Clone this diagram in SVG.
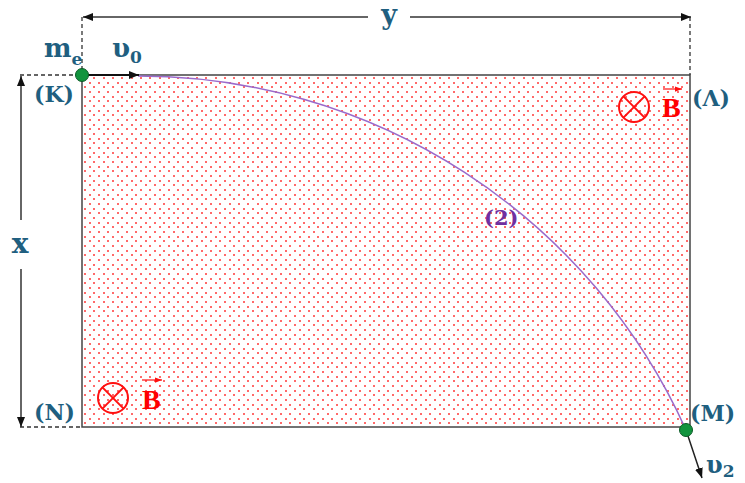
<svg xmlns="http://www.w3.org/2000/svg" width="745" height="483" viewBox="0 0 745 483">
<style>
.lbl{font-family:"DejaVu Serif","Liberation Serif",serif;font-weight:bold;fill:#1f5f80}
.big{font-size:26px}
.pt{font-size:22px}
.sub{font-size:17px}
.dim{stroke:#333;stroke-width:1.5;fill:none}
.dash{stroke:#333;stroke-width:1.3;stroke-dasharray:4 3;fill:none}
.red{stroke:#ff1010;stroke-width:2;fill:none}
.bt{font-family:"Liberation Serif","DejaVu Serif",serif;font-weight:bold;font-size:28px;fill:#ff0000}
.dot{fill:#12943e;stroke:#0b5a27;stroke-width:1}
.pd{fill:#ff6a6a}
</style>
<defs>
<pattern id="dots" patternUnits="userSpaceOnUse" x="82" y="75" width="28" height="28">
<rect class="pd" x="2" y="2" width="2" height="2"/>
<rect class="pd" x="11" y="2" width="2" height="2"/>
<rect class="pd" x="21" y="2" width="2" height="2"/>
<rect class="pd" x="7" y="7" width="2" height="2"/>
<rect class="pd" x="16" y="7" width="2" height="2"/>
<rect class="pd" x="25" y="7" width="2" height="2"/>
<rect class="pd" x="2" y="11" width="2" height="2"/>
<rect class="pd" x="11" y="11" width="2" height="2"/>
<rect class="pd" x="21" y="11" width="2" height="2"/>
<rect class="pd" x="7" y="16" width="2" height="2"/>
<rect class="pd" x="16" y="16" width="2" height="2"/>
<rect class="pd" x="25" y="16" width="2" height="2"/>
<rect class="pd" x="2" y="21" width="2" height="2"/>
<rect class="pd" x="11" y="21" width="2" height="2"/>
<rect class="pd" x="21" y="21" width="2" height="2"/>
<rect class="pd" x="7" y="25" width="2" height="2"/>
<rect class="pd" x="16" y="25" width="2" height="2"/>
<rect class="pd" x="25" y="25" width="2" height="2"/>
</pattern>
<marker id="ah" viewBox="0 0 10 8" refX="10" refY="4" markerWidth="10" markerHeight="8" markerUnits="userSpaceOnUse" orient="auto-start-reverse">
<path d="M0,0 L10,4 L0,8 Z" fill="#111"/>
</marker>
<marker id="ahr" viewBox="0 0 8 6" refX="8" refY="3" markerWidth="7" markerHeight="6" markerUnits="userSpaceOnUse" orient="auto">
<path d="M0,0 L8,3 L0,6 Z" fill="#ff1010"/>
</marker>
</defs>

<g id="field">
<rect x="82" y="75" width="608" height="352" fill="url(#dots)" stroke="#444" stroke-width="1.5"/>
</g>

<g id="connectors">
<line class="dash" x1="82" y1="17" x2="82" y2="75"/>
<line class="dash" x1="690" y1="17" x2="690" y2="75"/>
<line class="dim" x1="368" y1="17" x2="83" y2="17" marker-end="url(#ah)"/>
<line class="dim" x1="410" y1="17" x2="691" y2="17" marker-end="url(#ah)"/>
<line class="dash" x1="20" y1="75" x2="82" y2="75"/>
<line class="dash" x1="20" y1="427" x2="82" y2="427"/>
<line class="dim" x1="21" y1="220" x2="21" y2="76" marker-end="url(#ah)"/>
<line class="dim" x1="21" y1="269" x2="21" y2="427" marker-end="url(#ah)"/>
<path d="M138,76 A601,601 0 0 1 686,430" fill="none" stroke="#9a6acb" stroke-width="1.5"/>
<line x1="82" y1="75" x2="139" y2="75" stroke="#111" stroke-width="2" marker-end="url(#ah)"/>
<line x1="686" y1="430" x2="702" y2="478" stroke="#222" stroke-width="1.5" marker-end="url(#ah)"/>
</g>

<g id="B-top">
<circle class="red" cx="634" cy="107" r="15"/>
<line class="red" x1="623.4" y1="96.4" x2="644.6" y2="117.6"/>
<line class="red" x1="644.6" y1="96.4" x2="623.4" y2="117.6"/>
<text class="bt" x="662" y="117">B</text>
<line x1="663" y1="89" x2="682" y2="89" stroke="#ff1010" stroke-width="1.2" marker-end="url(#ahr)"/>
</g>

<g id="B-bottom">
<circle class="red" cx="113" cy="398" r="15"/>
<line class="red" x1="102.4" y1="387.4" x2="123.6" y2="408.6"/>
<line class="red" x1="123.6" y1="387.4" x2="102.4" y2="408.6"/>
<text class="bt" x="142" y="409">B</text>
<line x1="142" y1="380" x2="162" y2="380" stroke="#ff1010" stroke-width="1.2" marker-end="url(#ahr)"/>
</g>

<g id="electron">
<circle class="dot" cx="82" cy="75" r="6.5"/>
<text class="lbl big" x="44" y="57">m<tspan class="sub" dy="8">e</tspan></text>
<text class="lbl big" x="112" y="57">υ<tspan class="sub" dy="6">0</tspan></text>
</g>

<g id="exit">
<circle class="dot" cx="686" cy="430" r="6.5"/>
<text class="lbl" font-size="24" x="706" y="473">υ<tspan class="sub" font-size="16" dy="4">2</tspan></text>
</g>

<g id="K"><text class="lbl pt" x="34" y="102">(K)</text></g>
<g id="L"><text class="lbl pt" x="692" y="106">(Λ)</text></g>
<g id="N"><text class="lbl pt" x="34" y="420">(N)</text></g>
<g id="M"><text class="lbl pt" x="690" y="421">(M)</text></g>
<g id="xlabel"><text class="lbl" font-size="28" x="20" y="253" text-anchor="middle">x</text></g>
<g id="ylabel"><text class="lbl" font-size="27" x="389" y="24" text-anchor="middle">y</text></g>
<g id="path2"><text x="484" y="225" font-family="DejaVu Serif, Liberation Serif, serif" font-weight="bold" font-size="21" fill="#7030a0">(2)</text></g>
</svg>
